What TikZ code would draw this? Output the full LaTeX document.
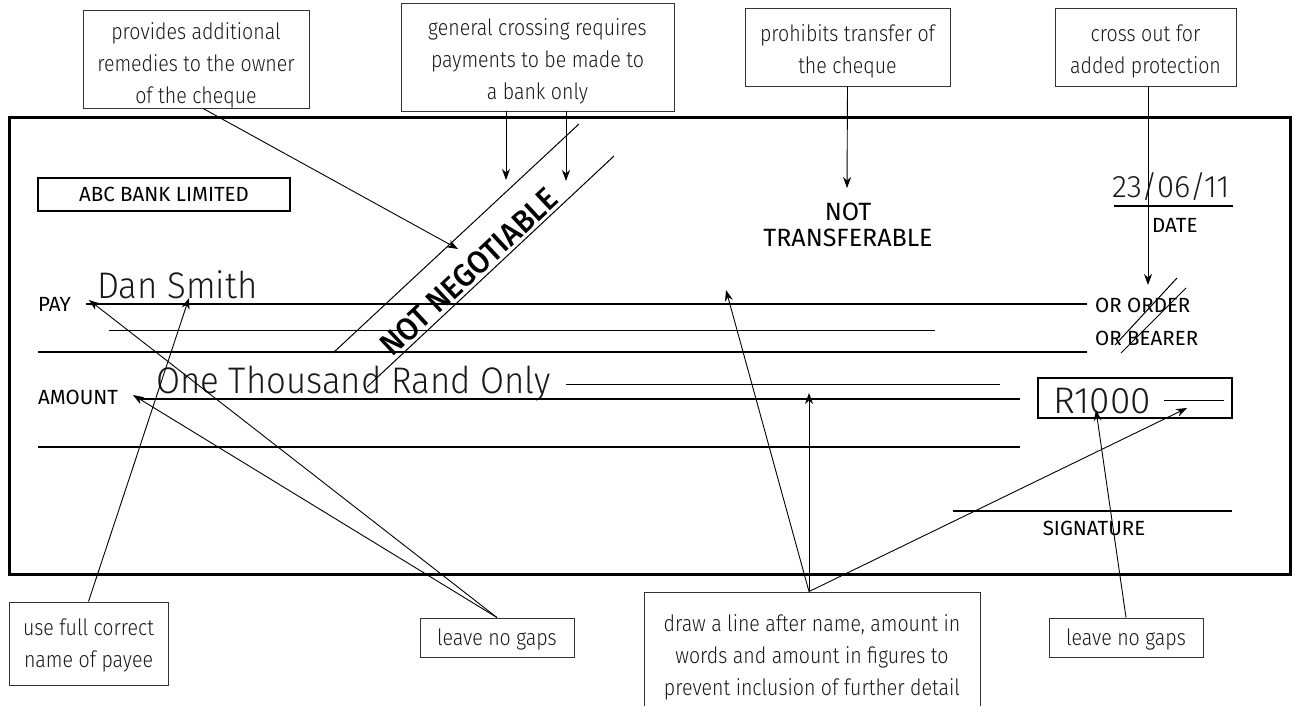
\documentclass[tikz,border=0pt]{standalone}
\usepackage{fontspec}
\setmainfont{Fira Sans}
\newfontfamily\lightf{Fira Sans Light}
\newfontfamily\lightc{Fira Sans Light}[FakeStretch=0.87]
\newfontfamily\lightn{Fira Sans Light}[FakeStretch=0.94]
\newfontfamily\medf{Fira Sans Medium}[FakeStretch=0.95]
\usetikzlibrary{arrows.meta}
\begin{document}
\begin{tikzpicture}[x=1pt,y=-1pt,
  cbox/.style={draw=black!80, line width=0.9pt, inner sep=0pt},
  ctext/.style={align=center, inner sep=0pt,
    font=\lightc\fontsize{22.5}{32}\selectfont, text=black!90},
  lbl/.style={inner sep=0pt, font=\fontsize{20.5}{24}\selectfont},
  hand/.style={inner sep=0pt, font=\lightn\fontsize{37}{40}\selectfont, text=black!90},
  thickl/.style={line width=2.3pt},
  thinl/.style={line width=1pt},
  arr/.style={-{Stealth[length=11pt,width=8pt]}, line width=0.9pt}]
\useasboundingbox (0,0) rectangle (1295,706);

% cheque
\node[draw, line width=3pt, minimum width=1281, minimum height=456, inner sep=0pt] (cheque) at (649.5,346) {};
\node[draw, line width=2.2pt, minimum width=252, minimum height=33, inner sep=0pt, font=\fontsize{20.5}{24}\selectfont] (abc) at (164,194.5) {ABC BANK LIMITED};

% labels
\node[lbl, anchor=west] (pay) at (38,304) {PAY};
\node[lbl, anchor=west] (amount) at (38,397) {AMOUNT};
\node[lbl, anchor=west] (order) at (1095,305) {OR ORDER};
\node[lbl, anchor=west] (bearer) at (1095,338) {OR BEARER};
\node[lbl, anchor=west] (date) at (1152,225) {DATE};
\node[lbl] (sig) at (1094,528) {SIGNATURE};
\node[inner sep=0pt, align=center, font=\fontsize{25}{26}\selectfont] (nt) at (848,225) {NOT\\TRANSFERABLE};

% handwriting
\node[hand, anchor=base west] (dan) at (97,298) {Dan Smith};
\node[hand, anchor=base west] (words) at (156,393) {One Thousand Rand Only};
\node[hand, anchor=base west, font=\lightf\fontsize{37}{40}\selectfont] (fig) at (1053,413) {R1000};
\node[hand, anchor=base west, font=\lightf\fontsize{31}{36}\selectfont] (dt) at (1112,197) {23/06/11};

% cheque lines
\coordinate (l1a) at (86,304);  \coordinate (l1b) at (1087,304);
\coordinate (l2a) at (109,330); \coordinate (l2b) at (935,330);
\coordinate (l3a) at (38,352);  \coordinate (l3b) at (1087,352);
\coordinate (l4a) at (566,384); \coordinate (l4b) at (1000,384);
\coordinate (l5a) at (140,399); \coordinate (l5b) at (1020,399);
\coordinate (l6a) at (38,447);  \coordinate (l6b) at (1020,447);
\draw[thickl] (l1a) -- (l1b);
\draw[thinl] (l2a) -- (l2b);
\draw[thickl] (l3a) -- (l3b);
\draw[thinl] (l4a) -- (l4b);
\draw[thickl] (l5a) -- (l5b);
\draw[thickl] (l6a) -- (l6b);

% figures box
\node[draw, line width=2.3pt, minimum width=194, minimum height=40, inner sep=0pt] (figbox) at (1135,398) {};
\coordinate (f1) at (1164,400); \coordinate (f2) at (1224,400);
\draw[thinl] (f1) -- (f2);

% date and signature lines
\coordinate (d1) at (1114,206); \coordinate (d2) at (1233,206);
\draw[thickl] (d1) -- (d2);
\coordinate (s1) at (953,511); \coordinate (s2) at (1232,511);
\draw[thickl] (s1) -- (s2);

% cross-out
\coordinate (x1a) at (1115,345); \coordinate (x1b) at (1177,278);
\coordinate (x2a) at (1121,353); \coordinate (x2b) at (1186,288);
\draw[thinl] (x1a) -- (x1b);
\draw[thinl] (x2a) -- (x2b);

% crossing
\coordinate (k1a) at (333,353); \coordinate (k1b) at (579,124);
\coordinate (k2a) at (367,387); \coordinate (k2b) at (614,156);
\draw[thinl] (k1a) -- (k1b);
\draw[thinl] (k2a) -- (k2b);
\node[inner sep=0pt, rotate=43, font=\medf\fontsize{31.5}{32}\selectfont] (nn) at (469,272) {NOT NEGOTIABLE};

% callouts
\node[cbox, minimum width=226, minimum height=98] (c1) at (196,59) {};
\node[ctext] (c1t) at ([yshift=-6pt]c1.center) {provides additional\\remedies to the owner\\of the cheque};
\node[cbox, minimum width=273, minimum height=108] (c2) at (537.5,57) {};
\node[ctext] (c2t) at ([yshift=-4pt]c2.center) {general crossing requires\\payments to be made to\\a bank only};
\node[cbox, minimum width=205, minimum height=78] (c3) at (847.5,47) {};
\node[ctext] (c3t) at ([yshift=-4pt]c3.center) {prohibits transfer of\\the cheque};
\node[cbox, minimum width=181, minimum height=78] (c4) at (1145.5,47) {};
\node[ctext] (c4t) at ([yshift=-4pt]c4.center) {cross out for\\added protection};
\node[cbox, minimum width=159, minimum height=83] (c5) at (88.5,643.5) {};
\node[ctext] (c5t) at ([yshift=-2pt]c5.center) {use full correct\\name of payee};
\node[cbox, minimum width=154, minimum height=39] (c6) at (497,637.5) {};
\node[ctext] (c6t) at ([yshift=-2pt]c6.center) {leave no gaps};
\node[cbox, minimum width=336, minimum height=130] (c7) at (812,657) {};
\node[ctext] (c7t) at (812,657) {draw a line after name, amount in\\words and amount in figures to\\prevent inclusion of further detail};
\node[cbox, minimum width=154, minimum height=39] (c8) at (1126,637.5) {};
\node[ctext] (c8t) at ([yshift=-2pt]c8.center) {leave no gaps};

% arrow targets
\coordinate (tProv) at (458,249);
\coordinate (tG1) at (506,180);
\coordinate (tG2) at (566,181);
\coordinate (tNT) at (847,188);
\coordinate (tCO) at (1148,285);
\coordinate (tDan) at (189,298);
\coordinate (tPay) at (89,300);
\coordinate (tAmt) at (133,395);
\coordinate (tL1) at (726,290);
\coordinate (tL2) at (809,393);
\coordinate (tL3) at (1187,408);
\coordinate (tFig) at (1096,410);

% arrows
\draw[arr] ([xshift=7pt]c1.south) -- (tProv);
\draw[arr] ([xshift=-31.5pt]c2.south) -- (tG1);
\draw[arr] ([xshift=28.5pt]c2.south) -- (tG2);
\draw[arr] (c3.south) -- (tNT);
\draw[arr] ([xshift=2.5pt]c4.south) -- (tCO);
\draw[arr] (c5.north) -- (tDan);
\draw[arr] (c6.north) -- (tPay);
\draw[arr] (c6.north) -- (tAmt);
\draw[arr] ([xshift=-3pt]c7.north) -- (tL1);
\draw[arr] ([xshift=-3pt]c7.north) -- (tL2);
\draw[arr] ([xshift=-3pt]c7.north) -- (tL3);
\draw[arr] (c8.north) -- (tFig);
\end{tikzpicture}
\end{document}
